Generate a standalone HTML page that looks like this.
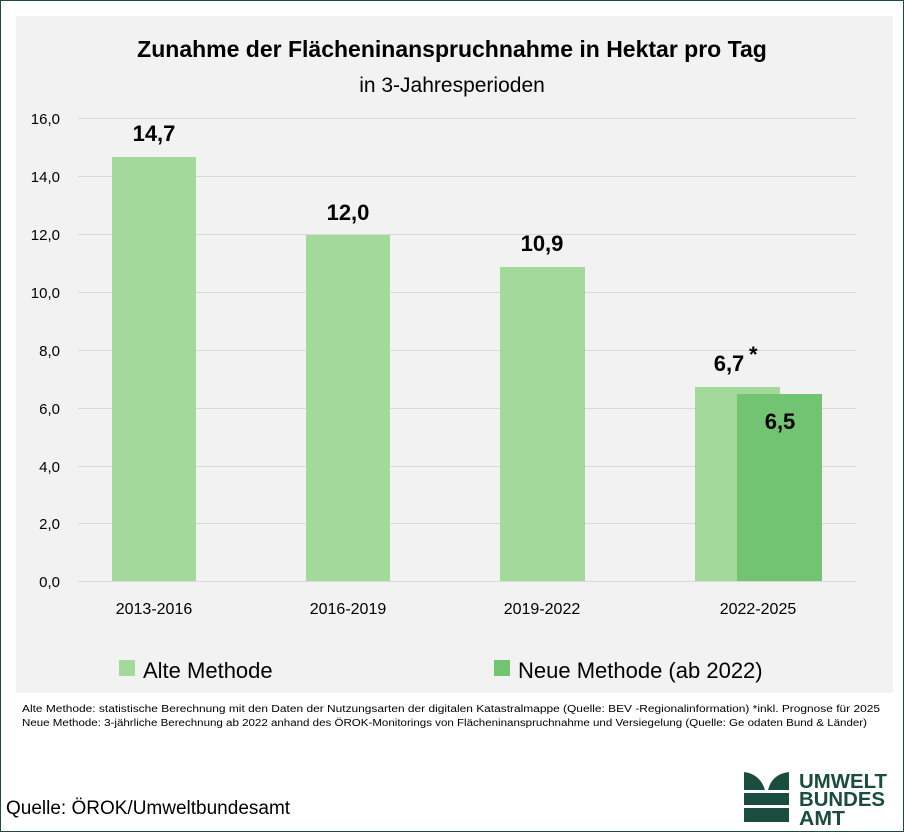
<!DOCTYPE html>
<html><head><meta charset="utf-8"><style>
body{margin:0;width:904px;height:832px;overflow:hidden;background:#fff;font-family:"Liberation Sans",sans-serif}
</style></head><body>
<svg width="904" height="832" viewBox="0 0 904 832" xmlns="http://www.w3.org/2000/svg" font-family="Liberation Sans, sans-serif">
<rect x="0.5" y="0.5" width="903" height="831" fill="#fff" stroke="#1b4d3e" stroke-width="1"/>
<rect x="16" y="16" width="877" height="677" fill="#f2f2f2"/>
<text x="452" y="57" text-anchor="middle" font-size="23" font-weight="bold">Zunahme der Flächeninanspruchnahme in Hektar pro Tag</text>
<text x="452" y="92" text-anchor="middle" font-size="21">in 3-Jahresperioden</text>
<g stroke="#d9d9d9" stroke-width="1">
<line x1="78" x2="856" y1="118.5" y2="118.5"/><line x1="78" x2="856" y1="176.5" y2="176.5"/>
<line x1="78" x2="856" y1="234.5" y2="234.5"/><line x1="78" x2="856" y1="292.5" y2="292.5"/>
<line x1="78" x2="856" y1="350.5" y2="350.5"/><line x1="78" x2="856" y1="408.5" y2="408.5"/>
<line x1="78" x2="856" y1="466.5" y2="466.5"/><line x1="78" x2="856" y1="523.5" y2="523.5"/>
<line x1="78" x2="856" y1="581.5" y2="581.5"/>
</g>
<g font-size="15" text-anchor="end" fill="#000">
<text x="60" y="124">16,0</text><text x="60" y="182">14,0</text><text x="60" y="240">12,0</text>
<text x="60" y="298">10,0</text><text x="60" y="356">8,0</text><text x="60" y="414">6,0</text>
<text x="60" y="472">4,0</text><text x="60" y="529">2,0</text><text x="60" y="587">0,0</text>
</g>
<g fill="#a3d99b">
<rect x="112" y="157" width="84" height="424"/>
<rect x="306" y="235" width="84" height="346"/>
<rect x="500" y="267" width="85" height="314"/>
<rect x="695" y="387" width="85" height="194"/>
</g>
<rect x="737" y="394" width="85" height="187" fill="#72c473"/>
<g font-size="22" font-weight="bold" text-anchor="middle">
<text x="154" y="141">14,7</text><text x="348" y="220">12,0</text><text x="542" y="251">10,9</text>
<text x="729" y="371">6,7</text><text x="780" y="429">6,5</text>
</g>
<text x="749" y="362" font-size="22" font-weight="bold">*</text>
<g font-size="16" text-anchor="middle">
<text x="154" y="614">2013-2016</text><text x="348" y="614">2016-2019</text>
<text x="542" y="614">2019-2022</text><text x="758" y="614">2022-2025</text>
</g>
<rect x="119" y="660" width="16" height="16" fill="#a3d99b"/>
<text x="143" y="678" font-size="22">Alte Methode</text>
<rect x="494" y="660" width="16" height="16" fill="#72c473"/>
<text x="518" y="678" font-size="22">Neue Methode (ab 2022)</text>
<g font-size="10">
<text x="22" y="712" textLength="858" lengthAdjust="spacingAndGlyphs">Alte Methode:  statistische Berechnung mit den Daten der Nutzungsarten der digitalen Katastralmappe (Quelle: BEV -Regionalinformation) *inkl. Prognose für 2025</text>
<text x="22" y="726" textLength="845" lengthAdjust="spacingAndGlyphs">Neue Methode: 3-jährliche Berechnung ab 2022 anhand des ÖROK-Monitorings von Flächeninanspruchnahme und Versiegelung (Quelle: Ge odaten Bund &amp; Länder)</text>
</g>
<text x="6" y="814" font-size="19">Quelle: ÖROK/Umweltbundesamt</text>
<g fill="#1b4d3e">
<path d="M744 772 Q760 774 765 790 L744 790 Z"/>
<path d="M789 772 Q772 774 768 790 L789 790 Z"/>
<rect x="744" y="793" width="45" height="12"/>
<rect x="744" y="808" width="45" height="14"/>
</g>
<g font-weight="bold" font-size="20" fill="#1b4d3e">
<text x="799" y="788" textLength="88" lengthAdjust="spacingAndGlyphs">UMWELT</text>
<text x="799" y="806" textLength="86" lengthAdjust="spacingAndGlyphs">BUNDES</text>
<text x="799" y="825" textLength="46" lengthAdjust="spacingAndGlyphs">AMT</text>
</g>
</svg>
</body></html>
